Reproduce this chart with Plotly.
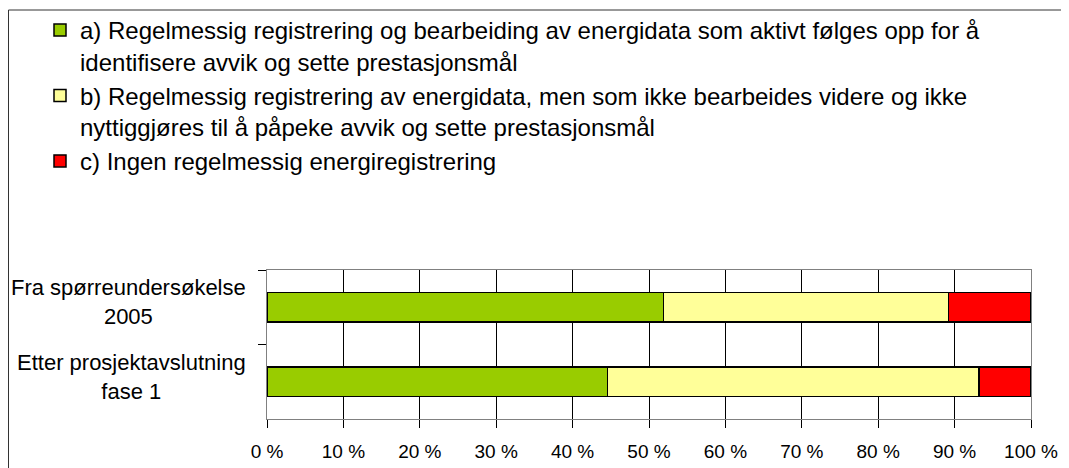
import plotly.graph_objects as go

categories = ["Fra spørreundersøkelse<br>2005", "Etter prosjektavslutning<br>fase 1"]
series_names = [
    "a) Regelmessig registrering og bearbeiding av energidata som aktivt følges opp for å<br>identifisere avvik og sette prestasjonsmål",
    "b) Regelmessig registrering av energidata, men som ikke bearbeides videre og ikke<br>nyttiggjøres til å påpeke avvik og sette prestasjonsmål",
    "c) Ingen regelmessig energiregistrering",
]
series_a = [51.9, 44.6]
series_b = [37.3, 48.6]
series_c = [10.8, 6.8]
colors = ["#99CC00", "#FFFF99", "#FF0000"]
x_ticks = [0, 10, 20, 30, 40, 50, 60, 70, 80, 90, 100]
x_ticktext = [f"{v} %" for v in x_ticks]

FONT = "Arial, Liberation Sans, sans-serif"

fig = go.Figure()
for name, vals, col in zip(series_names, [series_a, series_b, series_c], colors):
    fig.add_trace(go.Bar(
        y=categories, x=vals, name=name, orientation="h",
        marker=dict(color=col, line=dict(color="black", width=1.5)),
    ))

# page body has an 8px margin, so the figure is sized/offset accordingly
W, H = 1061, 460
L, R, T, B = 259, 38, 262, 49

fig.update_layout(
    width=W, height=H,
    barmode="stack", bargap=0.61,
    paper_bgcolor="white", plot_bgcolor="white",
    margin=dict(l=L, r=R, t=T, b=B, autoexpand=False),
    font=dict(family=FONT, size=19, color="black"),
    showlegend=True,
    legend=dict(
        xref="container", yref="container",
        x=32 / W, y=1.0, xanchor="left", yanchor="top",
        traceorder="normal", valign="top",
        font=dict(family=FONT, size=24, color="black"),
        bgcolor="rgba(0,0,0,0)", itemclick=False,
    ),
    xaxis=dict(
        range=[0, 100], tickmode="array", tickvals=x_ticks, ticktext=x_ticktext,
        showgrid=True, gridcolor="black", gridwidth=1,
        showline=True, linecolor="#808080", linewidth=1, mirror=True,
        ticks="outside", ticklen=8, tickcolor="black", ticklabelstandoff=7,
        zeroline=False, fixedrange=True,
        tickfont=dict(family=FONT, size=19, color="black"),
    ),
    yaxis=dict(
        autorange="reversed", showticklabels=False,
        showgrid=False, showline=True, linecolor="#808080", linewidth=1, mirror=True,
        ticks="outside", ticklen=8, tickcolor="black", tickson="boundaries",
        zeroline=False, fixedrange=True,
    ),
)

for cat in categories:
    fig.add_annotation(
        text=cat, xref="paper", yref="y", x=0, y=cat,
        xanchor="right", yanchor="middle", xshift=-19, yshift=5,
        showarrow=False, align="center",
        font=dict(family=FONT, size=22, color="black"),
    )

# outer chart frame (extends beyond the visible window on right and bottom)
pw = W - L - R
ph = H - T - B
fig.add_shape(
    type="rect", xref="paper", yref="paper",
    x0=(0.5 - L) / pw, x1=(W + 20 - L) / pw,
    y0=-(20 + B) / ph, y1=1 + (T - 2) / ph,
    line=dict(color="#333333", width=1), fillcolor="rgba(0,0,0,0)", layer="below",
)

fig.write_html("out.html")
